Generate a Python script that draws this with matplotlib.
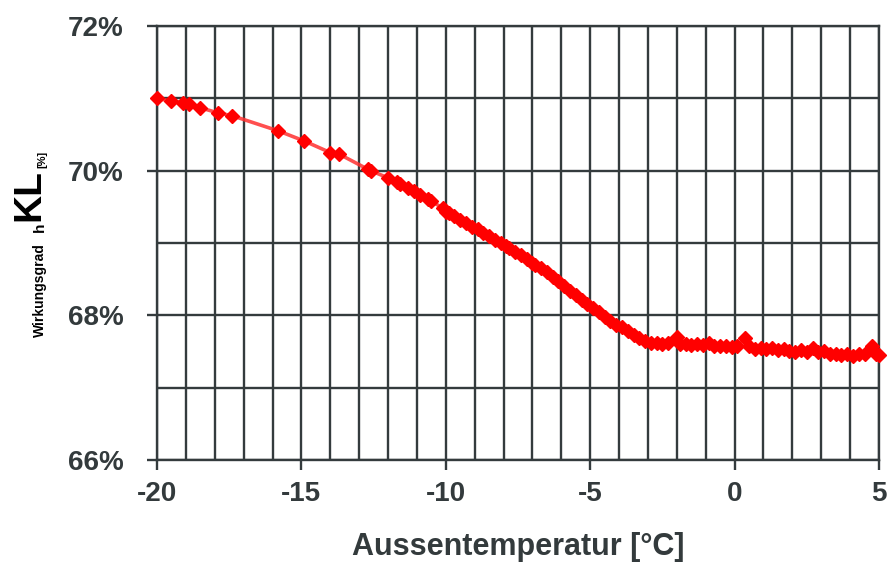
import matplotlib.pyplot as plt
from matplotlib.ticker import MultipleLocator, FuncFormatter

plt.rcParams["font.family"] = ["Liberation Sans", "DejaVu Sans"]
plt.rcParams["axes.unicode_minus"] = False

# Aussentemperatur [°C] and Wirkungsgrad [%]
temp = [-20.0, -19.5, -19.1, -18.9, -18.5, -17.9, -17.4, -15.8, -14.9, -14.0,
        -13.7, -12.7, -12.6, -12.0, -11.7, -11.6, -11.3, -11.1, -10.9, -10.6,
        -10.5, -10.1, -10.0, -9.9, -9.7, -9.5, -9.3, -9.1, -8.9, -8.7,
        -8.5, -8.3, -8.1, -7.9, -7.8, -7.6, -7.4, -7.2, -7.0, -6.9,
        -6.7, -6.5, -6.3, -6.1, -5.9, -5.7, -5.5, -5.3, -5.1, -4.9,
        -4.7, -4.5, -4.3, -4.1, -3.9, -3.7, -3.5, -3.3, -3.1, -2.9,
        -2.7, -2.5, -2.3, -2.0, -1.9, -1.7, -1.5, -1.3, -1.1, -0.9,
        -0.7, -0.5, -0.3, -0.1, 0.1, 0.35, 0.5, 0.7, 0.9, 1.1,
        1.3, 1.5, 1.7, 1.9, 2.1, 2.3, 2.5, 2.7, 2.9, 3.1,
        3.3, 3.5, 3.7, 3.9, 4.1, 4.3, 4.5, 4.75, 4.9, 5.0]
eta = [71.00, 70.96, 70.94, 70.92, 70.87, 70.80, 70.76, 70.55, 70.41, 70.25,
       70.23, 70.02, 70.00, 69.90, 69.84, 69.82, 69.76, 69.72, 69.67, 69.61,
       69.58, 69.48, 69.43, 69.42, 69.38, 69.32, 69.28, 69.22, 69.19, 69.14,
       69.10, 69.04, 69.00, 68.96, 68.93, 68.88, 68.84, 68.78, 68.72, 68.70,
       68.66, 68.60, 68.53, 68.48, 68.41, 68.34, 68.28, 68.21, 68.15, 68.10,
       68.04, 67.98, 67.92, 67.86, 67.84, 67.78, 67.73, 67.69, 67.64, 67.62,
       67.62, 67.61, 67.62, 67.70, 67.60, 67.60, 67.59, 67.60, 67.59, 67.62,
       67.58, 67.58, 67.57, 67.56, 67.57, 67.68, 67.57, 67.54, 67.55, 67.53,
       67.55, 67.52, 67.53, 67.51, 67.50, 67.52, 67.49, 67.55, 67.50, 67.51,
       67.47, 67.46, 67.45, 67.46, 67.44, 67.46, 67.47, 67.58, 67.46, 67.45]

grid_c = "#343b3d"
text_c = "#333a3c"

fig = plt.figure(figsize=(8.88, 5.76), dpi=100)
ax = fig.add_axes([157 / 888, 1 - 460 / 576, 722 / 888, 434 / 576])

ax.plot(temp, eta, color="#ff3030", lw=2.6, alpha=0.85, zorder=3, clip_on=False)
ax.plot(temp, eta, ls="none", marker="D", ms=7, mec="#ff0000", mfc="#ff0000",
        zorder=4, clip_on=False)

ax.set_xlim(-20, 5)
ax.set_ylim(66, 72)
ax.xaxis.set_major_locator(MultipleLocator(5))
ax.xaxis.set_minor_locator(MultipleLocator(1))
ax.yaxis.set_major_locator(MultipleLocator(2))
ax.yaxis.set_minor_locator(MultipleLocator(1))
ax.yaxis.set_major_formatter(FuncFormatter(lambda v, p: f"{v:.0f}%"))

ax.grid(which="both", color=grid_c, lw=1.7)
ax.set_axisbelow(True)
for s in ax.spines.values():
    s.set_color(grid_c)
    s.set_linewidth(1.7)

ax.tick_params(which="major", length=7, width=1.7, color=grid_c,
               labelsize=20, labelcolor=text_c)
ax.tick_params(which="minor", length=0)
ax.tick_params(axis="y", pad=17)
ax.tick_params(axis="x", pad=8)
for lab in ax.get_xticklabels() + ax.get_yticklabels():
    lab.set_fontweight("bold")

ax.set_xlabel("Aussentemperatur [°C]", fontsize=22, fontweight="bold",
              color=text_c, labelpad=18)

# y label in pieces (mixed sizes, as in the original)
fig.text(47 / 888, 1 - 337 / 576, "Wirkungsgrad", rotation=90, ha="right",
         va="bottom", fontsize=10, fontweight="bold", color="black")
fig.text(47 / 888, 1 - 232 / 576, "h", rotation=90, ha="right",
         va="bottom", fontsize=11, fontweight="bold", color="black")
fig.text(47 / 888, 1 - 221 / 576, "KL", rotation=90, ha="right",
         va="bottom", fontsize=28, fontweight="bold", color="black")
fig.text(47 / 888, 1 - 168 / 576, "[%]", rotation=90, ha="right",
         va="bottom", fontsize=8, fontweight="bold", color="black")

fig.savefig("out.png", dpi=100)
